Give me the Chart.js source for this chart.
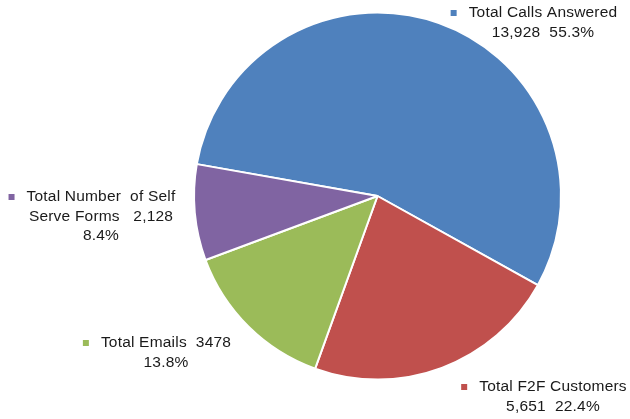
<!DOCTYPE html>
<html>
<head>
<meta charset="utf-8">
<script src="https://cdn.jsdelivr.net/npm/chart.js@4/dist/chart.umd.min.js"></script>
<style>
  html, body { margin: 0; padding: 0; background: #fff; }
  #wrap { width: 630px; height: 419px; }
</style>
</head>
<body>
<div id="wrap"><canvas id="pieChart" width="630" height="419"></canvas></div>
<script>
// data
const categories = ['Total Calls Answered', 'Total F2F Customers', 'Total Emails', 'Total Number  of Self Serve Forms'];
const values = [13928, 5651, 3478, 2128];
const percentLabels = ['55.3%', '22.4%', '13.8%', '8.4%'];
const labelLines = [
    ['Total Calls Answered', '13,928  55.3%'],
    ['Total F2F Customers', '5,651  22.4%'],
    ['Total Emails  3478', '13.8%'],
    ['Total Number  of Self', 'Serve Forms   2,128', '8.4%']
];
const colors = ['#4F81BD', '#C0504D', '#9BBB59', '#8064A2'];

// where each label block sits (centre x of block, y of first line)
const labelPos = [
    { x: 543, y: 13 },
    { x: 553, y: 387 },
    { x: 166, y: 343 },
    { x: 101, y: 197 }
];

const labelPlugin = {
    id: 'outsideLabels',
    afterDraw(chart) {
        const ctx = chart.ctx;
        ctx.save();
        ctx.font = '15.5px "Liberation Sans", Arial, sans-serif';
        ctx.letterSpacing = '0.2px';
        ctx.fillStyle = '#1a1a1a';
        ctx.textAlign = 'center';
        ctx.textBaseline = 'middle';
        labelLines.forEach(function (lines, i) {
            const p = labelPos[i];
            lines.forEach(function (t, j) {
                ctx.fillText(t, p.x, p.y + j * 19.5);
            });
            // legend key square left of first line
            const w = ctx.measureText(lines[0]).width;
            ctx.fillStyle = colors[i];
            ctx.fillRect(p.x - w / 2 - 18, p.y - 3, 6, 6);
            ctx.fillStyle = '#1a1a1a';
        });
        ctx.restore();
    }
};

new Chart(document.getElementById('pieChart').getContext('2d'), {
    type: 'pie',
    data: {
        labels: categories,
        datasets: [{
            data: values,
            backgroundColor: colors,
            borderColor: '#ffffff',
            borderWidth: 2
        }]
    },
    options: {
        responsive: false,
        animation: false,
        rotation: -80,
        layout: { padding: { left: 193, right: 68, top: 11, bottom: 38 } },
        plugins: {
            legend: { display: false },
            tooltip: { enabled: false }
        }
    },
    plugins: [labelPlugin]
});
</script>
</body>
</html>
